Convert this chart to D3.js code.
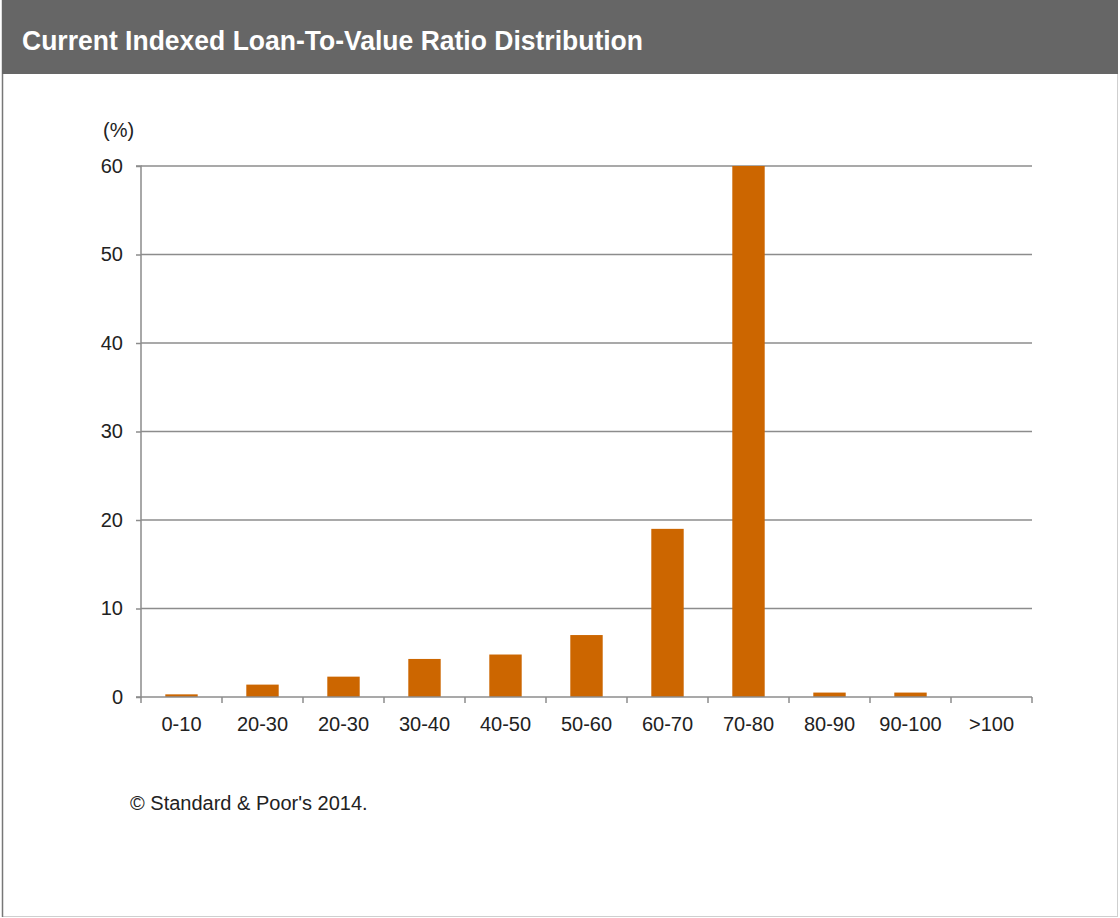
<!DOCTYPE html>
<html><head><meta charset="utf-8">
<script src="https://cdn.jsdelivr.net/npm/d3@7"></script>
<style>body{margin:0;background:#fff}svg{display:block}</style>
</head><body>
<script>
const categories = ["0-10","20-30","20-30 ","30-40","40-50","50-60","60-70","70-80","80-90","90-100",">100"];
const values = [0.3, 1.4, 2.3, 4.3, 4.8, 7.0, 19.0, 60.0, 0.5, 0.5, 0];
const yTicks = [0,10,20,30,40,50,60];
const title = "Current Indexed Loan-To-Value Ratio Distribution";
const unitLabel = "(%)";
const source = "\u00A9 Standard & Poor's 2014.";

const W = 1120, H = 918;
const svg = d3.select("body").append("svg").attr("width", W).attr("height", H);

// frame
svg.append("rect").attr("x",2.5).attr("y",0.5).attr("width",1115).attr("height",916)
  .attr("fill","#fff").attr("stroke","#cfcfcf").attr("stroke-width",1);
svg.append("line").attr("x1",2.5).attr("x2",2.5).attr("y1",0).attr("y2",917).attr("stroke","#777").attr("stroke-width",1.5);
svg.append("rect").attr("x",2).attr("y",0).attr("width",1116).attr("height",74).attr("fill","#666666");
svg.append("text").attr("x",22).attr("y",50).text(title)
  .attr("fill","#fff").attr("font-family","'Liberation Sans Narrow','Arial Narrow',Arial,sans-serif")
  .attr("font-weight","bold").attr("font-size",27)
  .attr("textLength",621).attr("lengthAdjust","spacingAndGlyphs");

const x0 = 141, x1 = 1032, yTop = 166, yBot = 697;
const x = d3.scaleBand().domain(categories).range([x0,x1]).paddingInner(0.6).paddingOuter(0.3);
const y = d3.scaleLinear().domain([0,60]).range([yBot,yTop]);
const xb = d3.scaleBand().domain(categories).range([x0,x1]);

const font = "Arial,'Liberation Sans',sans-serif";
const fs = 20;

// grid
svg.append("g").selectAll("line").data(yTicks.filter(d=>d>0)).join("line")
  .attr("x1",x0).attr("x2",x1).attr("y1",d=>y(d)).attr("y2",d=>y(d))
  .attr("stroke","#8c8c8c").attr("stroke-width",1.5);

// y axis
const yAxis = svg.append("g").attr("transform",`translate(${x0},0)`)
  .call(d3.axisLeft(y).tickValues(yTicks).tickSize(5).tickPadding(13).tickFormat(d3.format("d")));
yAxis.select(".domain").attr("stroke","#8c8c8c").attr("stroke-width",1.5).attr("d",`M-5,${yTop}H0V${yBot}H-5`);
yAxis.selectAll(".tick line").attr("stroke","#8c8c8c").attr("stroke-width",1.5);
yAxis.selectAll(".tick text").attr("font-family",font).attr("font-size",fs).attr("fill","#222");

// bars
svg.append("g").selectAll("rect").data(values).join("rect")
  .attr("x",(d,i)=>x(categories[i])).attr("width",x.bandwidth())
  .attr("y",d=>y(d)).attr("height",d=>yBot-y(d))
  .attr("fill","#cc6600");

// x axis
const xAxis = svg.append("g").attr("transform",`translate(0,${yBot})`)
  .call(d3.axisBottom(xb).tickSize(0).tickPadding(20));
xAxis.select(".domain").remove();
svg.append("line").attr("x1",x0).attr("x2",x1).attr("y1",yBot).attr("y2",yBot).attr("stroke","#8c8c8c").attr("stroke-width",1.5);
svg.append("g").selectAll("line").data(d3.range(categories.length+1)).join("line")
  .attr("x1",i=>x0+i*xb.step()).attr("x2",i=>x0+i*xb.step())
  .attr("y1",yBot).attr("y2",yBot+6).attr("stroke","#8c8c8c").attr("stroke-width",1.5);
xAxis.selectAll(".tick text").attr("font-family",font).attr("font-size",fs).attr("fill","#222")
  .attr("dy","0.71em");

svg.append("text").attr("x",103).attr("y",137).text(unitLabel)
  .attr("font-family",font).attr("font-size",fs).attr("fill","#222");
svg.append("text").attr("x",130).attr("y",810).text(source)
  .attr("font-family",font).attr("font-size",fs).attr("fill","#222");
</script>
</body></html>
